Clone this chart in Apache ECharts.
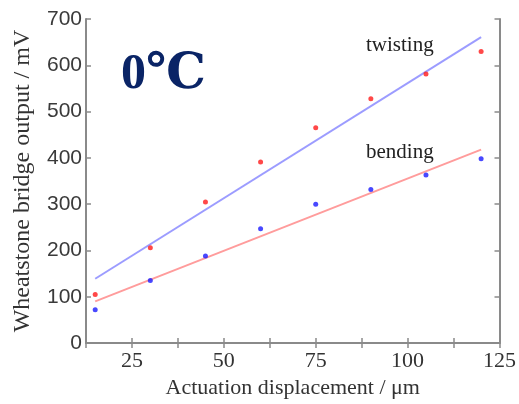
<!DOCTYPE html>
<html><head><meta charset="utf-8">
<script src="https://cdn.jsdelivr.net/npm/echarts@6/dist/echarts.min.js"></script>
<style>html,body{margin:0;padding:0;background:#fff}#c{width:519px;height:404px}</style>
</head><body><div id="c"></div>
<script>
var displacement = [15, 30, 45, 60, 75, 90, 105, 120];
var twistingPoints = [105, 206, 305, 391, 465, 528, 581, 630];
var bendingPoints = [72, 135, 188, 247, 300, 332, 363, 398];
var twistingFitX = [15, 120];
var twistingFitY = [139, 661];
var bendingFitX = [15, 120];
var bendingFitY = [90, 418];
var xTicks = [25, 50, 75, 100, 125];
var yTicks = [0, 100, 200, 300, 400, 500, 600, 700];

function pairs(xs, ys) { return xs.map(function (x, i) { return [x, ys[i]]; }); }

var chart = echarts.init(document.getElementById('c'), null, {renderer: 'canvas'});
var axisGray = '#8a8a8a';
var serif = '"Liberation Serif", "DejaVu Serif", serif';
var sans = '"Liberation Sans", Arial, sans-serif';

chart.setOption({
  animation: false,
  backgroundColor: '#fff',
  grid: {left: 86, right: 14, top: 19, bottom: 54},
  xAxis: [{
    type: 'value', min: 12.5, max: 125, interval: 12.5,
    name: 'Actuation displacement / μm', nameLocation: 'middle', nameGap: 26,
    nameTextStyle: {fontFamily: serif, fontSize: 22, color: '#333'},
    axisLine: {show: true, lineStyle: {color: axisGray, width: 2}},
    axisTick: {show: true, inside: true, length: 5, lineStyle: {color: axisGray, width: 1.5}},
    axisLabel: {fontFamily: serif, fontSize: 22, color: '#333', margin: 7,
      formatter: function (v) { return xTicks.indexOf(v) >= 0 ? String(v) : ''; }},
    splitLine: {show: false}
  }, {
    type: 'value', position: 'top', min: 12.5, max: 125, interval: 12.5,
    axisLine: {show: true, lineStyle: {color: axisGray, width: 2}},
    axisTick: {show: true, inside: true, length: 5, lineStyle: {color: axisGray, width: 1.5}},
    axisLabel: {show: false}, splitLine: {show: false}
  }],
  yAxis: [{
    type: 'value', min: 0, max: 700, interval: 100,
    name: 'Wheatstone bridge output / mV', nameLocation: 'middle', nameGap: 51,
    nameTextStyle: {fontFamily: serif, fontSize: 24, color: '#333'},
    axisLine: {show: true, lineStyle: {color: axisGray, width: 2}},
    axisTick: {show: true, inside: true, length: 5, lineStyle: {color: axisGray, width: 1.5}},
    axisLabel: {fontFamily: sans, fontSize: 21, color: '#3a3a3a', margin: 4,
      formatter: function (v) { return yTicks.indexOf(v) >= 0 ? String(v) : ''; }},
    splitLine: {show: false}
  }, {
    type: 'value', position: 'right', min: 0, max: 700, interval: 100,
    axisLine: {show: true, lineStyle: {color: axisGray, width: 2}},
    axisTick: {show: true, inside: true, length: 5, lineStyle: {color: axisGray, width: 1.5}},
    axisLabel: {show: false}, splitLine: {show: false}
  }],
  series: [{
    name: 'twisting fit', type: 'line', data: pairs(twistingFitX, twistingFitY),
    showSymbol: false, lineStyle: {color: '#9c9cff', width: 2}, z: 2
  }, {
    name: 'bending fit', type: 'line', data: pairs(bendingFitX, bendingFitY),
    showSymbol: false, lineStyle: {color: '#ff9c9c', width: 2}, z: 2
  }, {
    name: 'twisting', type: 'scatter', data: pairs(displacement, twistingPoints),
    symbolSize: 5, itemStyle: {color: '#ff1a1a'}, z: 3
  }, {
    name: 'bending', type: 'scatter', data: pairs(displacement, bendingPoints),
    symbolSize: 5, itemStyle: {color: '#1a1aff'}, z: 3
  }],
  graphic: [{
    type: 'text', left: 121, top: 50,
    style: {text: '0℃', font: 'bold 50px ' + serif, fill: '#0a2466'}
  }, {
    type: 'text', left: 366, top: 35,
    style: {text: 'twisting', font: '21px ' + serif, fill: '#222'}
  }, {
    type: 'text', left: 366, top: 142,
    style: {text: 'bending', font: '21px ' + serif, fill: '#222'}
  }]
});
</script>
</body></html>
